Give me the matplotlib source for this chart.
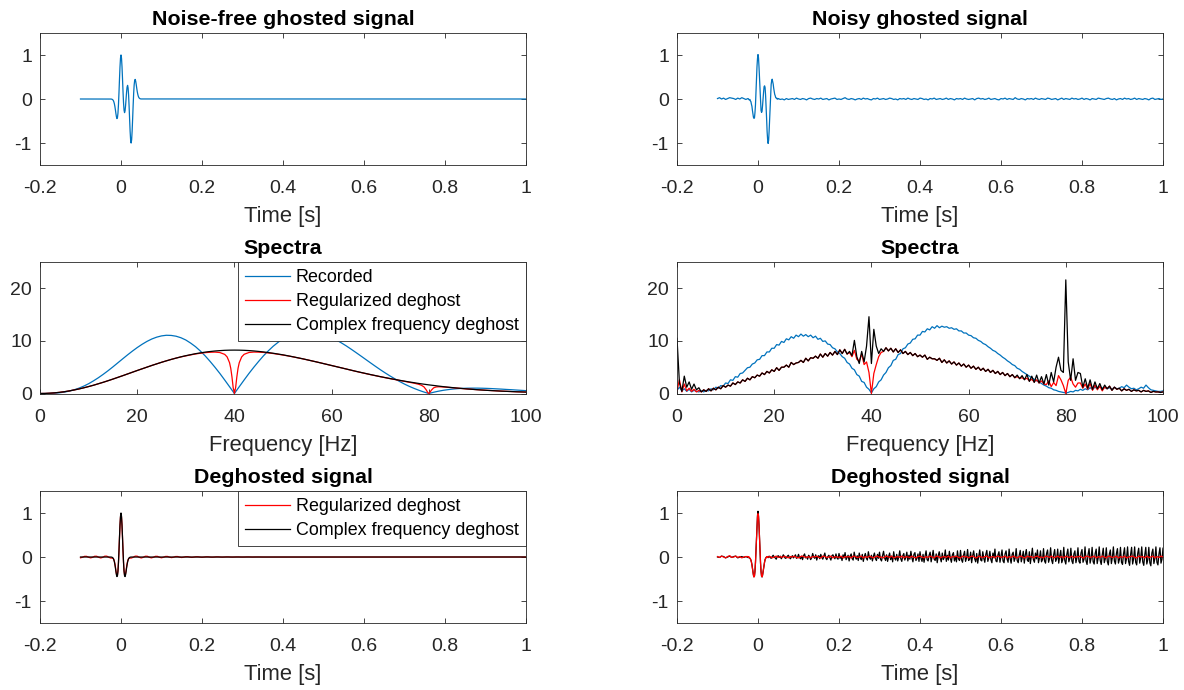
import numpy as np
import matplotlib
matplotlib.use("Agg")
import matplotlib.pyplot as plt

plt.rcParams['font.family'] = ['Liberation Sans', 'DejaVu Sans']

# ---------------- data ----------------
# time axis ticks
time_ticks = [-0.2, 0, 0.2, 0.4, 0.6, 0.8, 1]
time_labels = ["-0.2", "0", "0.2", "0.4", "0.6", "0.8", "1"]
amp_ticks = [-1, 0, 1]
amp_labels = ["-1", "0", "1"]
freq_ticks = [0, 20, 40, 60, 80, 100]
freq_labels = ["0", "20", "40", "60", "80", "100"]
spec_ticks = [0, 10, 20]
spec_labels = ["0", "10", "20"]

# ghosted wavelet, -25 ms .. 50 ms every 1.25 ms (x 1/1000)
ghost_wavelet = [-1, -2, -5, -11, -21, -39, -69, -114, -175, -251, -334, -406, -445, -423, -320,
                 -126, 142, 445, 727, 928, 1001, 930, 732, 456, 163, -87, -251, -310, -270, -155,
                 0, 155, 270, 310, 251, 87, -163, -456, -732, -930, -1001, -928, -727, -445, -142,
                 126, 320, 423, 445, 406, 334, 251, 175, 114, 69, 39, 21, 11, 5, 2, 1]

# noisy ghosted record: before wavelet (5 ms, x1/100), wavelet (1.25 ms, x1/1000), after (5 ms, x1/100)
noisy_pre = [1, 3, 0, 2, -1, 1, 3, 2, 1, -1, 2, 0, 3, 1, -1]
noisy_wavelet = [10, 5, -15, -20, -10, -45, -60, -120, -165, -260, -330, -415, -440, -430, -310,
                 -135, 150, 440, 735, 920, 1010, 935, 725, 465, 155, -80, -260, -305, -280, -150,
                 10, 150, 280, 300, 260, 80, -170, -450, -740, -920, -1010, -935, -720, -450, -135,
                 120, 330, 415, 450, 400, 340, 245, 180, 105, 75, 30, 25, 5, 15, -5, 10]
noisy_post = [-1, 0, -2, 1, -1, 0, 1, -1, 2, 0, -1, 1, 0, -2, 1, 2, 0, -1, 1, 0,
              2, -1, 0, 1, -2, 0, 1, 2, -1, 0, -1, 1, 3, 0, -1, 1, 0, -2, 0, 1,
              -1, 2, 0, 1, -1, -2, 1, 0, 2, -1, 0, 1, -1, 0, 2, 1, -1, 0, -2, 1,
              0, 1, -1, 2, 0, -1, 1, 0, -1, 2, 1, -1, 0, -2, 1, 0, 2, -1, 0, 1,
              -1, 0, 2, -1, 1, 0, -2, 1, 0, 1, -1, 2, 0, -1, 0, 1, -2, 1, 2, 0,
              1, -1, 0, 2, -1, 0, 1, -1, -2, 1, 0, 2, -1, 1, 0, -1, 3, 0, -1, 1,
              0, -2, 1, 0, 1, -1, 2, 0, -1, 1, 0, -1, 2, 1, -1, 0, 1, -2, 0, 2,
              -1, 1, 0, -1, 2, 0, 1, -1, 0, 2, -1, 1, 0, -2, 1, 0, -1, 2, 1, 0,
              -1, 1, 2, 0, -1, 1, -2, 0, 1, -1, 2, 0, 1, -1, 0, 2, -1, 1, 0, -1,
              1, 0, -2, 1, 2, -1, 0, 1, -1, 0]

# deghosted wavelet, -25 .. 25 ms every 1.25 ms (x 1/1000)
ricker_wavelet = [-1, -2, -5, -11, -21, -39, -69, -114, -175, -251, -334, -406, -445, -423, -320,
                  -126, 142, 445, 727, 928, 1000, 928, 727, 445, 142, -126, -320, -423, -445, -406,
                  -334, -251, -175, -114, -69, -39, -21, -11, -5, -2, -1]

# regularized deghost of the clean record (x 1/1000)
reg_pre = [-18, -6, 15, 15, -6, -20, -7, 17, 17, -7, -22, -7, 19, 19, -7]
reg_wavelet = [-25, -25, -24, -25, -28, -39, -62, -100, -156, -228, -310, -383, -426, -409, -313,
               -126, 135, 431, 708, 905, 976, 905, 708, 431, 135, -126, -313, -409, -426, -383,
               -310, -228, -156, -100, -62, -39, -28, -25, -24, -25, -25]
reg_post = [-7, 19, 19, -7, -22, -7, 17, 17, -7, -20, -6, 15, 15, -6, -18, -5, 13, 13, -5, -14,
            -4, 11, 11, -4, -12, -3, 8, 8, -3, -9, -2, 6, 6, -2, -7, -2, 5, 5, -2, -5,
            -2, 4, 4, -1, -4, -1, 3, 3, -1, -3, -1, 2, 2, -1, -2, -1, 2, 2, 0, -2,
            0, 1, 1, 0, -1]

# regularized deghost of the noisy record
nreg_pre = [1, -1, 2, 0, -2, 1, 3, -1, 0, 2, -1, 1, -2, 0, 1]
nreg_wavelet = [10, -5, 5, -15, -25, -40, -75, -120, -180, -255, -340, -415, -455, -435, -325,
                -125, 140, 440, 720, 915, 985, 920, 720, 440, 140, -130, -325, -430, -450, -410,
                -335, -250, -175, -110, -65, -35, -15, 5, -10, 10, -5]
nreg_post = [1, -2, 0, 2, -1, 1, -1, 2, 0, -2, 1, 0, 2, -1, -2, 1, 2, 0, -1, 1,
             -2, 1, 0, 2, -1, -2, 2, 1, -1, 0, 2, -2, 1, 0, -1, 2, -2, 1, 0, 1,
             -2, 2, 1, -1, 0, 2, -2, 1, -1, 2, 0, -2, 1, 2, -1, 0, -2, 2, 1, -1,
             2, -2, 0, 1, -1, 2, -2, 1, 0, -1, 2, -1, -2, 1, 2, 0, -2, 1, -1, 2,
             0, -2, 2, 1, -2, 0, 1, -1, 2, -2, 1, 0, 2, -1, -2, 2, 0, 1, -2, 1,
             2, -1, -2, 2, 0, -1, 1, 2, -2, 0, 1, -2, 2, 1, -1, 0, 2, -2, 1, -1,
             2, 0, -2, 1, 2, -1, -2, 2, 0, 1, -2, 1, 2, -1, 0, -2, 2, 1, -1, 2,
             -2, 0, 2, -1, 1, -2, 2, 0, -1, 2, -2, 1, 0, 2, -1, -2, 2, 1, -1, 0,
             2, -2, 1, -1, 2, 0, -2, 2, 1, -1, 0, 2, -2, 1, -1, 2, -2, 0, 1, 2,
             -1, -2, 2, 0, 1, -2, 2, -1, 0, 2, -2, 1, -1, 2, 0]

# complex frequency deghost of the noisy record (after the wavelet: every 2.5 ms, x1/100)
ncf_pre = [0, -1, 2, 1, -2, 0, 2, -1, 1, 2, -2, 0, 1, -1, 1]
ncf_wavelet = [-10, -15, -5, -20, -30, -45, -70, -110, -170, -250, -330, -410, -450, -430, -325,
               -130, 140, 450, 735, 945, 1040, 940, 725, 440, 135, -135, -330, -435, -455, -415,
               -340, -255, -180, -115, -60, -30, -10, -5, 10, -5, -15]
ncf_post = (
    "2 -1 -3 1 4 0 -2 -5 1 3 -1 2 -4 0 5 1 -3 -2 2 4 -1 -4 0 3 -2 1 5 -3 -1 "
    "6 -1 -4 2 -6 3 7 -2 0 -5 4 1 -6 -2 8 0 -3 5 -7 1 3 -4 6 -1 -5 2 9 -3 -6 1 4 -2 -7 3 5 0 -4 7 -2 -5 "
    "8 -3 1 -8 5 -2 10 -6 -1 4 -9 2 7 -4 -7 11 0 -5 3 -8 9 -2 -6 6 -10 1 8 -3 -7 12 -1 -5 4 -9 2 9 -4 -8 6 -3 "
    "11 -5 -9 3 13 -2 -8 5 -10 1 9 -6 2 -11 12 -3 -7 6 -9 0 14 -4 -10 3 8 -7 -1 11 -9 4 -5 13 -2 -11 6 10 -8 -3 7 -10 "
    "12 -3 -10 6 -12 2 14 -6 -9 4 11 -11 1 15 -5 -8 7 -13 3 12 -2 -11 9 -6 -1 16 -10 4 -7 13 -3 -12 5 10 -9 2 -11 14 -4 -8 "
    "15 -6 -12 4 13 -10 -2 17 -8 -5 11 -13 3 14 -4 -11 8 -14 1 16 -7 -9 12 -3 -12 6 15 -10 -1 13 -6 -13 9 -2 18 -9 -11 5 12 -12 "
    "2 16 -9 -13 7 14 -5 -12 18 -3 -14 6 11 -10 -2 19 -8 -13 4 15 -11 -1 13 -14 5 17 -7 -10 12 -15 3 20 -6 -12 9 -4 16 -13 -2 14 "
    "-11 -6 19 -9 -14 8 16 -12 -3 21 -7 -15 5 17 -10 -4 18 -14 2 15 -13 -6 22 -8 -16 6 18 -11 -3 20 -9 -15 7 14 -13 -2 21 -10 -14 9 "
    "17 -12 -5 23 -9 -17 6 19 -14 -3 22 -11 -16 8 18 -15 -2 23 -8 -17 5 20 -13 -4 21 -10 -18 7 16 -15 -1 23 -9 -16 8 19 -14 -5 22 -12 "
    "-17 7 21 -15 -3 23 -10 -19 6 22 -16 -4 23 -12 -18 8 20 -14 -2 23 -11 -19 5 22 -16 -6 22 -13 -20 9 18 -15 -3 23 -12 -18 7 21 -14 -5 20"
)

# noise-free spectra, 0..100 Hz every 1 Hz
spec_recorded = [0, 0.00, 0.02, 0.06, 0.14, 0.26, 0.45, 0.70, 1.01, 1.40,
                 1.86, 2.40, 2.99, 3.64, 4.33, 5.06, 5.82, 6.58, 7.33, 8.05,
                 8.73, 9.35, 9.90, 10.36, 10.71, 10.95, 11.07, 11.04, 10.89, 10.60,
                 10.17, 9.58, 8.90, 8.07, 7.14, 6.10, 4.99, 3.82, 2.57, 1.29,
                 0, 1.29, 2.57, 3.82, 5.00, 6.12, 7.18, 8.13, 9.00, 9.74,
                 10.39, 10.91, 11.32, 11.59, 11.77, 11.83, 11.78, 11.62, 11.38, 11.05,
                 10.64, 10.17, 9.63, 9.06, 8.44, 7.80, 7.15, 6.49, 5.83, 5.18,
                 4.54, 3.93, 3.35, 2.80, 2.28, 1.79, 1.35, 0.96, 0.60, 0.28,
                 0, 0.24, 0.44, 0.61, 0.74, 0.85, 0.93, 0.98, 1.01, 1.02,
                 1.02, 1.00, 0.97, 0.93, 0.88, 0.83, 0.77, 0.72, 0.66, 0.60, 0.54]
spec_complex = [0, 0.01, 0.06, 0.13, 0.22, 0.34, 0.49, 0.67, 0.86, 1.08,
                1.32, 1.57, 1.85, 2.13, 2.43, 2.74, 3.06, 3.38, 3.71, 4.04,
                4.37, 4.69, 5.01, 5.33, 5.63, 5.93, 6.21, 6.48, 6.73, 6.97,
                7.19, 7.38, 7.57, 7.72, 7.87, 7.98, 8.08, 8.15, 8.21, 8.24,
                8.25, 8.24, 8.21, 8.16, 8.09, 8.00, 7.90, 7.78, 7.65, 7.50,
                7.35, 7.17, 6.99, 6.80, 6.61, 6.40, 6.19, 5.98, 5.76, 5.54,
                5.32, 5.10, 4.88, 4.66, 4.44, 4.22, 4.01, 3.81, 3.60, 3.41,
                3.21, 3.03, 2.85, 2.68, 2.51, 2.35, 2.19, 2.05, 1.90, 1.77,
                1.64, 1.53, 1.41, 1.30, 1.20, 1.11, 1.02, 0.94, 0.86, 0.79,
                0.72, 0.66, 0.60, 0.55, 0.50, 0.45, 0.41, 0.37, 0.33, 0.30, 0.27]
spec_reg_freq = (list(range(0, 38)) + [38, 38.5, 39, 39.25, 39.5, 39.75, 40, 40.25, 40.5, 40.75, 41, 41.5, 42]
                 + list(range(43, 78)) + [78, 78.5, 79, 79.5, 79.75, 80, 80.25, 80.5, 81, 81.5, 82]
                 + list(range(83, 101)))
spec_reg = ([0, 0.01, 0.05, 0.12, 0.22, 0.34, 0.49, 0.67, 0.86, 1.08,
             1.32, 1.57, 1.85, 2.13, 2.43, 2.74, 3.06, 3.38, 3.71, 4.04,
             4.37, 4.69, 5.01, 5.33, 5.63, 5.93, 6.21, 6.48, 6.73, 6.96,
             7.15, 7.34, 7.52, 7.65, 7.77, 7.84, 7.87, 7.79]
            + [7.44, 6.96, 5.86, 4.79, 3.14, 1.11, 0, 1.11, 3.14, 4.79, 5.86, 6.96, 7.45]
            + [7.80, 7.88, 7.86, 7.81, 7.71, 7.60, 7.46, 7.31, 7.15, 6.98,
               6.79, 6.60, 6.40, 6.19, 5.98, 5.76, 5.54, 5.32, 5.10, 4.88,
               4.66, 4.43, 4.21, 4.00, 3.79, 3.59, 3.39, 3.20, 3.01, 2.83,
               2.66, 2.48, 2.31, 2.13, 1.96]
            + [1.73, 1.55, 1.26, 0.65, 0.22, 0, 0.22, 0.60, 1.08, 1.24, 1.28]
            + [1.24, 1.17, 1.09, 1.01, 0.93, 0.85, 0.79, 0.72, 0.66, 0.60,
               0.55, 0.50, 0.45, 0.41, 0.37, 0.33, 0.30, 0.27])

# noisy spectra, 0..100 Hz every 0.5 Hz
nspec_recorded = [0.6, 1.2, 0.5, 0.9, 0.4, 0.8, 0.3, 0.6, 0.4, 0.3,
                  0.5, 0.3, 0.6, 0.5, 0.9, 0.7, 1.2, 1.0, 1.5, 1.4,
                  2.0, 1.9, 2.6, 2.5, 3.2, 3.1, 3.8, 3.9, 4.4, 4.9,
                  5.0, 5.6, 5.8, 6.4, 6.5, 7.2, 7.2, 7.9, 7.9, 8.6,
                  8.6, 9.3, 9.2, 9.9, 9.7, 10.4, 10.2, 10.8, 10.5, 11.1,
                  10.8, 11.3, 10.9, 11.2, 10.8, 11.1, 10.6, 10.9, 10.3, 10.5,
                  9.9, 10.0, 9.4, 9.3, 8.7, 8.5, 7.9, 7.6, 7.0, 6.7,
                  5.9, 5.6, 4.8, 4.5, 3.6, 3.3, 2.3, 2.1, 1.2, 0.8,
                  0.1, 0.9, 1.3, 2.2, 2.6, 3.5, 4.0, 4.9, 5.3, 6.3,
                  6.5, 7.4, 7.6, 8.5, 8.7, 9.4, 9.6, 10.3, 10.4, 11.1,
                  11.1, 11.8, 11.7, 12.3, 12.1, 12.7, 12.4, 12.9, 12.5, 12.8,
                  12.6, 12.7, 12.4, 12.5, 12.2, 12.3, 11.9, 11.9, 11.5, 11.5,
                  11.1, 11.0, 10.6, 10.5, 10.1, 9.9, 9.5, 9.3, 8.9, 8.6,
                  8.2, 8.0, 7.6, 7.3, 6.9, 6.6, 6.2, 5.9, 5.5, 5.3,
                  4.8, 4.6, 4.2, 3.9, 3.6, 3.3, 3.0, 2.7, 2.4, 2.2,
                  1.9, 1.6, 1.4, 1.1, 1.0, 0.7, 0.6, 0.4, 0.3, 0.2,
                  0.1, 0.2, 0.4, 0.3, 0.6, 0.5, 0.8, 0.6, 0.9, 0.7,
                  1.1, 0.8, 1.2, 0.9, 1.3, 1.0, 1.2, 0.9, 1.1, 0.8,
                  1.2, 0.9, 1.0, 1.3, 1.1, 1.6, 1.2, 0.9, 1.0, 0.7,
                  0.9, 1.2, 1.0, 1.6, 1.1, 0.7, 0.6, 0.5, 0.4, 0.4,
                  0.5]
nspec_complex = [10.5, 2.0, 0.4, 3.3, 1.2, 2.2, 0.8, 1.8, 0.7, 1.1,
                 0.3, 0.7, 0.4, 0.9, 0.5, 1.0, 0.7, 1.2, 0.9, 1.5,
                 1.2, 1.6, 1.4, 2.0, 1.7, 2.2, 2.0, 2.6, 2.3, 2.9,
                 2.6, 3.2, 3.0, 3.5, 3.3, 3.9, 3.6, 4.2, 3.9, 4.5,
                 4.2, 4.9, 4.4, 5.0, 5.0, 5.4, 5.0, 5.9, 5.5, 5.8,
                 5.9, 6.3, 5.9, 6.7, 6.2, 6.8, 6.7, 7.1, 6.7, 7.5,
                 6.9, 7.6, 7.1, 7.8, 7.3, 8.0, 7.4, 8.3, 7.6, 8.4,
                 7.5, 8.0, 7.2, 10.1, 7.0, 5.7, 8.0, 6.0, 9.0, 14.6,
                 5.7, 12.2, 9.0, 7.6, 8.5, 8.0, 8.7, 8.1, 8.6, 7.9,
                 8.5, 7.8, 8.3, 7.6, 8.0, 7.4, 7.8, 7.2, 7.6, 7.0,
                 7.3, 6.9, 7.3, 6.5, 6.9, 6.6, 6.6, 6.3, 6.7, 5.9,
                 6.4, 5.8, 6.2, 5.6, 6.0, 5.4, 5.8, 5.2, 5.6, 5.0,
                 5.4, 4.8, 5.2, 4.6, 5.0, 4.4, 4.8, 4.2, 4.6, 4.0,
                 4.4, 3.8, 4.2, 3.6, 4.0, 3.4, 3.8, 3.2, 3.6, 3.0,
                 3.5, 2.8, 3.4, 2.6, 3.6, 2.3, 3.3, 2.1, 3.5, 2.0,
                 3.2, 1.8, 3.6, 1.6, 4.0, 2.2, 5.0, 6.9, 4.4, 4.0,
                 21.6, 6.0, 2.5, 6.6, 2.5, 4.0, 3.8, 1.2, 2.8, 1.0,
                 2.6, 0.8, 2.2, 0.9, 1.9, 0.7, 1.6, 0.9, 1.4, 0.6,
                 1.2, 0.8, 1.0, 0.5, 0.9, 0.6, 0.8, 0.4, 0.7, 0.5,
                 0.6, 0.3, 0.6, 0.4, 0.5, 0.2, 0.4, 0.3, 0.3, 0.2,
                 0.3]
# regularized deghost of the noisy record: equal to the complex one except here
nspec_reg_diff = {0: 0.5, 0.5: 2.6, 1.0: 0.3, 1.5: 1.8, 2.0: 0.5, 2.5: 1.0, 3.0: 0.4, 3.5: 0.8,
                  4.0: 0.3, 4.5: 0.6,
                  35.5: 7.8, 36: 7.0, 36.5: 8.2, 37: 6.5, 37.5: 6.2, 38: 7.5, 38.5: 5.5, 39: 6.0,
                  39.5: 4.0, 40: 0.0, 40.5: 3.8, 41: 5.5, 41.5: 7.0, 42: 7.8,
                  70: 3.2, 70.5: 2.9, 71: 3.0, 71.5: 2.7, 72: 2.9, 72.5: 2.4, 73: 2.7, 73.5: 2.2,
                  74: 2.6, 74.5: 2.0, 75: 2.4, 75.5: 1.8,
                  76: 1.7, 76.5: 2.4, 77: 1.3, 77.5: 2.1, 78: 1.5, 78.5: 3.4, 79: 2.6, 79.5: 1.5,
                  80: 0.0, 80.5: 2.5, 81: 3.1, 81.5: 1.8, 82: 1.2, 82.5: 2.0, 83: 2.0, 83.5: 1.0,
                  84: 1.8, 84.5: 0.8, 85: 1.9, 85.5: 0.6, 86: 1.6, 86.5: 0.7, 87: 1.4, 87.5: 0.5,
                  88: 1.2}

# ---------------- sample times ----------------
t_pre = -0.1 + 0.005 * np.arange(15)
t_w41 = -0.025 + 0.00125 * np.arange(41)
t_w61 = -0.025 + 0.00125 * np.arange(61)

t_clean = np.concatenate([[-0.1], t_w61, [1.0]])
y_clean = np.concatenate([[0], np.array(ghost_wavelet) / 1000, [0]])

t_noisy = np.concatenate([t_pre, t_w61, 0.055 + 0.005 * np.arange(len(noisy_post))])
y_noisy = np.concatenate([np.array(noisy_pre) / 100, np.array(noisy_wavelet) / 1000,
                          np.array(noisy_post) / 100])

t_cf = np.concatenate([[-0.1], t_w41, [1.0]])
y_cf = np.concatenate([[0], np.array(ricker_wavelet) / 1000, [0]])

t_reg = np.concatenate([t_pre, t_w41, 0.03 + 0.005 * np.arange(len(reg_post)), [1.0]])
y_reg = np.concatenate([reg_pre, reg_wavelet, reg_post, [0]]) / 1000

t_nreg = np.concatenate([t_pre, t_w41, 0.03 + 0.005 * np.arange(len(nreg_post))])
y_nreg = np.concatenate([np.array(nreg_pre) / 100, np.array(nreg_wavelet) / 1000,
                         np.array(nreg_post) / 100])

ncf_post_vals = np.array(ncf_post.split(), float)
t_ncf = np.concatenate([t_pre, t_w41, 0.0275 + 0.0025 * np.arange(len(ncf_post_vals))])
y_ncf = np.concatenate([np.array(ncf_pre) / 100, np.array(ncf_wavelet) / 1000, ncf_post_vals / 100])

f1 = np.arange(len(spec_complex))
fn = np.linspace(0, 100, len(nspec_complex))
nspec_reg = np.array(nspec_complex, float)
for fk, v in nspec_reg_diff.items():
    nspec_reg[np.argmin(np.abs(fn - fk))] = v

# ---------------- figure ----------------
BLUE = '#0072BD'
RED = '#FF0000'
BLACK = '#000000'
AXC = '#262626'
LW = 0.9

W, H = 1184, 690
fig = plt.figure(figsize=(W / 100, H / 100), dpi=100)


def make_axes(x0, top, bottom):
    return fig.add_axes([x0 / W, 1 - bottom / H, 486 / W, (bottom - top) / H])


def style(ax, title, xlabel, xlim, ylim, xt, xl, yt, yl):
    ax.set_xlim(xlim)
    ax.set_ylim(ylim)
    ax.set_xticks(xt)
    ax.set_xticklabels(xl)
    ax.set_yticks(yt)
    ax.set_yticklabels(yl)
    ax.tick_params(direction='in', top=True, right=True, length=3.6, width=0.6,
                   colors=AXC, labelsize=14)
    ax.tick_params(axis='x', pad=11)
    ax.tick_params(axis='y', pad=5.8)
    for s in ax.spines.values():
        s.set_color(AXC)
        s.set_linewidth(0.6)
    ax.set_title(title, fontsize=15.4, fontweight='bold', pad=6)
    ax.set_xlabel(xlabel, fontsize=15.8, color=AXC, labelpad=6.5)


def legend(ax):
    leg = ax.legend(loc='upper right', borderaxespad=0, fontsize=12.9, handlelength=2.5,
                    handletextpad=0.32, borderpad=0.4, labelspacing=0.38, fancybox=False,
                    edgecolor=AXC, framealpha=1)
    leg.get_frame().set_linewidth(0.6)


LX, RX = 40, 677
rows = [(33, 165), (262, 393.5), (491, 623)]

# row 1
ax = make_axes(LX, *rows[0])
ax.plot(t_clean, y_clean, color=BLUE, lw=LW)
style(ax, 'Noise-free ghosted signal', 'Time [s]', (-0.2, 1), (-1.5, 1.5),
      time_ticks, time_labels, amp_ticks, amp_labels)

ax = make_axes(RX, *rows[0])
ax.plot(t_noisy, y_noisy, color=BLUE, lw=LW)
style(ax, 'Noisy ghosted signal', 'Time [s]', (-0.2, 1), (-1.5, 1.5),
      time_ticks, time_labels, amp_ticks, amp_labels)

# row 2
ax = make_axes(LX, *rows[1])
ax.plot(f1, spec_recorded, color=BLUE, lw=LW, label='Recorded')
ax.plot(spec_reg_freq, spec_reg, color=RED, lw=LW, label='Regularized deghost')
ax.plot(f1, spec_complex, color=BLACK, lw=LW, label='Complex frequency deghost')
style(ax, 'Spectra', 'Frequency [Hz]', (0, 100), (0, 25),
      freq_ticks, freq_labels, spec_ticks, spec_labels)
legend(ax)

ax = make_axes(RX, *rows[1])
ax.plot(fn, nspec_recorded, color=BLUE, lw=LW)
ax.plot(fn, nspec_reg, color=RED, lw=LW)
ax.plot(fn, nspec_complex, color=BLACK, lw=LW)
style(ax, 'Spectra', 'Frequency [Hz]', (0, 100), (0, 25),
      freq_ticks, freq_labels, spec_ticks, spec_labels)

# row 3
ax = make_axes(LX, *rows[2])
ax.plot(t_reg, y_reg, color=RED, lw=LW, label='Regularized deghost')
ax.plot(t_cf, y_cf, color=BLACK, lw=LW, label='Complex frequency deghost')
style(ax, 'Deghosted signal', 'Time [s]', (-0.2, 1), (-1.5, 1.5),
      time_ticks, time_labels, amp_ticks, amp_labels)
legend(ax)

ax = make_axes(RX, *rows[2])
ax.plot(t_ncf, y_ncf, color=BLACK, lw=LW)
ax.plot(t_nreg, y_nreg, color=RED, lw=LW)
style(ax, 'Deghosted signal', 'Time [s]', (-0.2, 1), (-1.5, 1.5),
      time_ticks, time_labels, amp_ticks, amp_labels)

fig.savefig('out.png', dpi=100, facecolor='white')
